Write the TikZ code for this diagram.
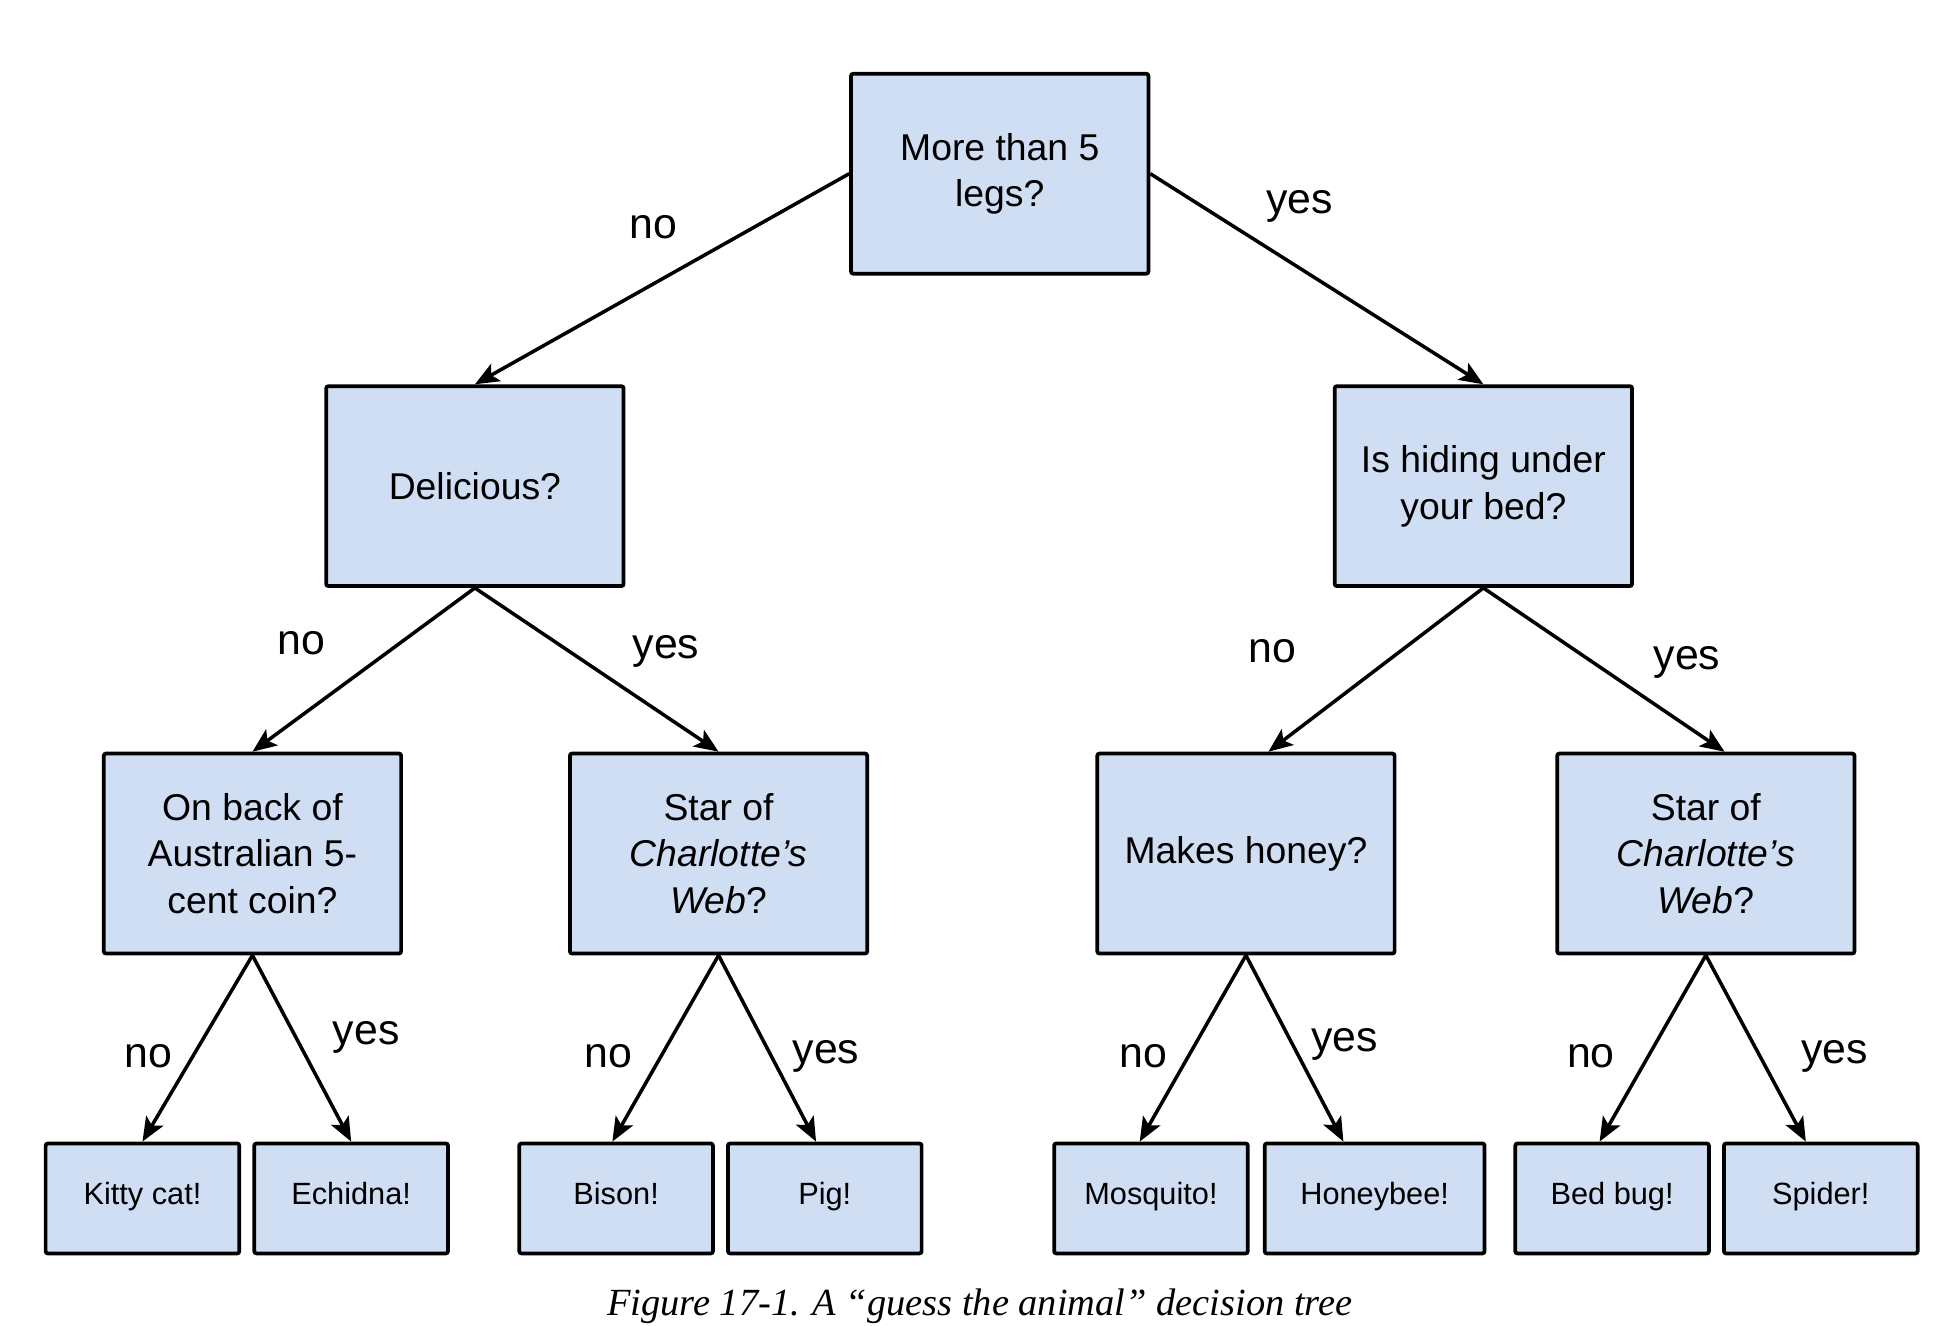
\documentclass[tikz,border=0pt]{standalone}
\usepackage{fontspec}
\setmainfont{Liberation Sans}
\newfontfamily\captionfont{Liberation Serif}
\usepackage{tikz}
\usetikzlibrary{calc,arrows.meta,positioning}

\definecolor{boxblue}{RGB}{207,222,243}

\tikzset{
	question/.style={draw=black, line width=1.7pt, fill=boxblue, rounded corners=1pt,
		minimum width=4.76cm, minimum height=3.2cm, align=center,
		font=\fontsize{17}{21.2}\selectfont, inner sep=0pt},
	animal/.style={draw=black, line width=1.7pt, fill=boxblue, rounded corners=1pt,
		minimum width=3.1cm, minimum height=1.76cm, align=center,
		text height=0.75em, text depth=0.2em,
		font=\fontsize{14}{17}\selectfont, inner sep=0pt},
	answer/.style={font=\fontsize{19.5}{22}\selectfont, inner sep=0pt},
	branch/.style={line width=1.6pt, -{Stealth[length=11pt,width=9pt,inset=2.5pt]}},
}

\begin{document}
\begin{tikzpicture}[x=0.02cm, y=-0.02cm]
		\useasboundingbox (0,0) rectangle (1562,1061);

		% Root question
		\node[question] (root) at (800,139) {More than 5\\legs?};

		% Second level
		\node[question] (tasty) at (380,389) {Delicious?};
		\node[question] (bed) at (1187,389) {Is hiding under\\your bed?};

		% Third level
		\node[question] (coin) at (202,683) {On back of\\Australian 5-\\cent coin?};
		\node[question] (webL) at (575,683) {Star of\\\textit{Charlotte’s}\\\textit{Web}?};
		\node[question] (honey) at (997,683) {Makes honey?};
		\node[question] (webR) at (1365,683) {Star of\\\textit{Charlotte’s}\\\textit{Web}?};

		% Guesses
		\node[animal] (kitty) at (114,959) {Kitty cat!};
		\node[animal] (echidna) at (281,959) {Echidna!};
		\node[animal] (bison) at (493,959) {Bison!};
		\node[animal] (pig) at (660,959) {Pig!};
		\node[animal] (mosquito) at (921,959) {Mosquito!};
		\node[animal, minimum width=3.52cm] (honeybee) at (1100,959) {Honeybee!};
		\node[animal] (bedbug) at (1290,959) {Bed bug!};
		\node[animal] (spider) at (1457,959) {Spider!};

		% Branches
		\draw[branch] (root.west) -- (tasty.north);
		\draw[branch] (root.east) -- (bed.north);
		\draw[branch] (tasty.south) -- (coin.north);
		\draw[branch] (tasty.south) -- (webL.north);
		\draw[branch] (bed.south) -- ($(honey.north)+(18,0)$);
		\draw[branch] (bed.south) -- ($(webR.north)+(15,0)$);
		\draw[branch] (coin.south) -- (kitty.north);
		\draw[branch] (coin.south) -- (echidna.north);
		\draw[branch] (webL.south) -- ($(bison.north)+(-3,0)$);
		\draw[branch] (webL.south) -- ($(pig.north)+(-7,0)$);
		\draw[branch] (honey.south) -- ($(mosquito.north)+(-9,0)$);
		\draw[branch] (honey.south) -- ($(honeybee.north)+(-25,0)$);
		\draw[branch] (webR.south) -- ($(bedbug.north)+(-10,0)$);
		\draw[branch] (webR.south) -- ($(spider.north)+(-12,0)$);

		% Branch labels
		\node[answer] (n1) at (523,182) {no};
		\node[answer] (y1) at (1040,165) {yes};
		\node[answer] (n2) at (241,515) {no};
		\node[answer] (y2) at (533,521) {yes};
		\node[answer] (n3) at (1018,521) {no};
		\node[answer] (y3) at (1350,530) {yes};
		\node[answer] (n4) at (119,845) {no};
		\node[answer] (y4) at (293,830) {yes};
		\node[answer] (n5) at (487,845) {no};
		\node[answer] (y5) at (661,845) {yes};
		\node[answer] (n6) at (915,845) {no};
		\node[answer] (y6) at (1076,836) {yes};
		\node[answer] (n7) at (1273,845) {no};
		\node[answer] (y7) at (1468,845) {yes};

		% Caption
		\node[font=\captionfont\itshape\fontsize{17.5}{20}\selectfont, inner sep=0pt] (caption) at (784,1045) {Figure 17-1. A “guess the animal” decision tree};
	\end{tikzpicture}
\end{document}
